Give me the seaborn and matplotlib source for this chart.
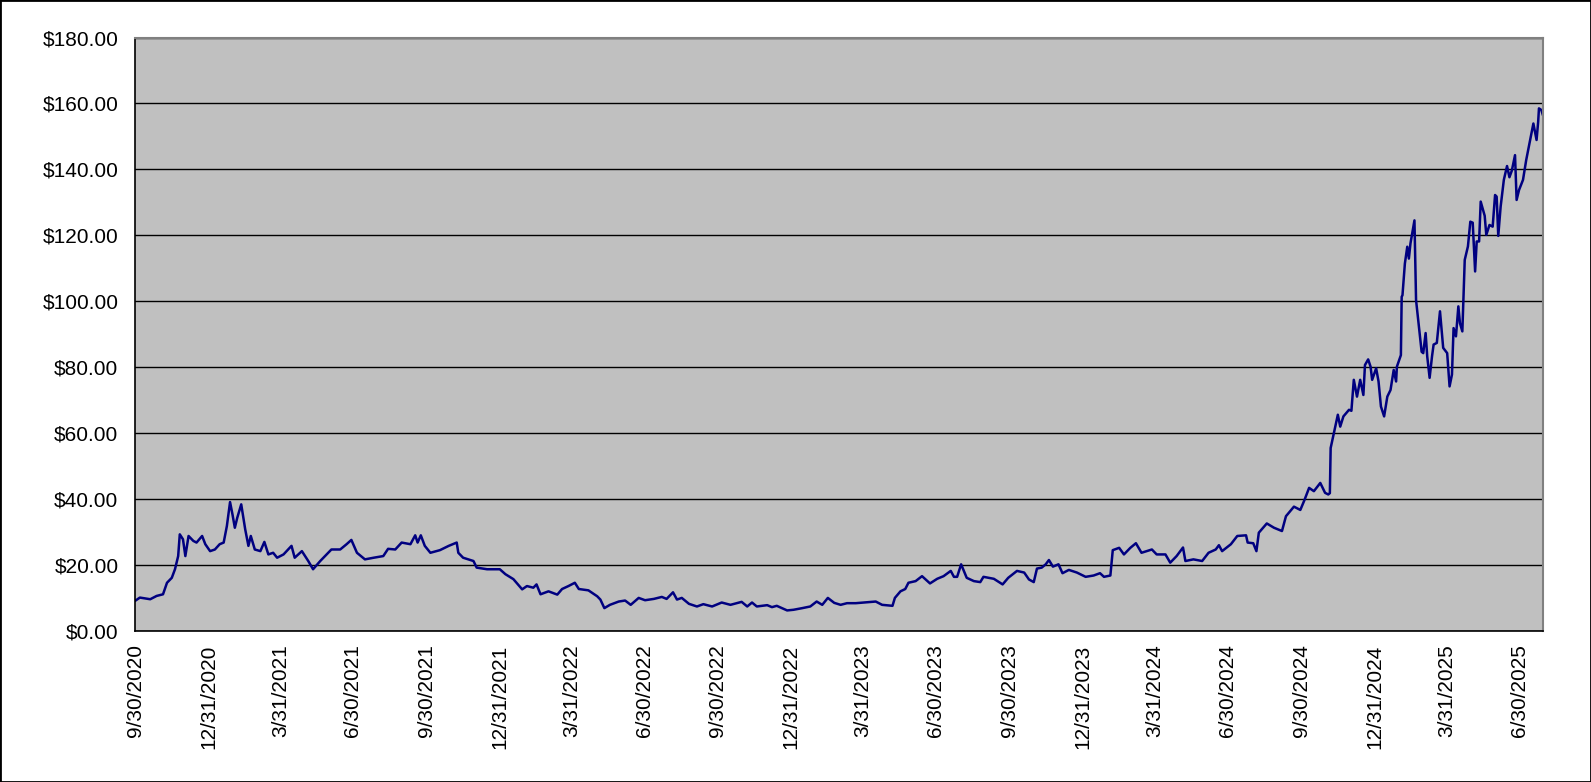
import numpy as np
import pandas as pd
import matplotlib
matplotlib.use("Agg")
import matplotlib.pyplot as plt
import matplotlib.ticker as mticker
import seaborn as sns

# %%
# price, x = days after 9/30/2020
start_date = "2020-09-30"
end_date = "2025-07-30"

days = [
    0, 6, 19, 27, 35, 40, 46, 50, 54, 56, 60, 63, 67, 73, 77,
    84, 88, 94, 100, 106, 111, 115, 119, 122, 125, 128, 133, 138, 142, 145,
    150, 157, 162, 167, 173, 178, 186, 196, 200, 209, 217, 223, 232, 240, 246,
    257, 265, 271, 278, 288, 299, 311, 317, 326, 334, 345, 351, 354, 358, 363,
    370, 382, 393, 403, 405, 411, 424, 428, 441, 457, 464, 474, 485, 491, 499,
    503, 508, 518, 529, 535, 543, 551, 556, 568, 579, 583, 588, 595, 606, 614,
    621, 631, 639, 650, 660, 666, 674, 679, 685, 694, 704, 712, 723, 735, 746,
    760, 767, 773, 779, 792, 798, 804, 817, 825, 836, 846, 854, 861, 868, 876,
    884, 892, 903, 913, 928, 936, 949, 952, 959, 965, 969, 978, 986, 996, 1005,
    1013, 1022, 1026, 1030, 1035, 1042, 1051, 1059, 1063, 1076, 1087, 1094, 1105, 1114, 1120,
    1126, 1130, 1136, 1141, 1145, 1150, 1157, 1162, 1170, 1180, 1191, 1201, 1209, 1214, 1222,
    1225, 1233, 1239, 1247, 1254, 1261, 1274, 1280, 1291, 1297, 1305, 1313, 1316, 1326, 1337,
    1345, 1354, 1358, 1362, 1373, 1381, 1392, 1394, 1401, 1405, 1408, 1418, 1427, 1437, 1442,
    1452, 1460, 1465, 1471, 1477, 1485, 1491, 1495, 1497, 1498, 1502, 1507, 1510, 1514, 1521,
    1524, 1527, 1531, 1535, 1539, 1541, 1545, 1548, 1550, 1555, 1558, 1561, 1565, 1569, 1573,
    1577, 1580, 1581, 1586, 1587, 1588, 1591, 1594, 1596, 1598, 1603, 1605, 1609, 1612, 1614,
    1617, 1619, 1622, 1625, 1627, 1631, 1635, 1639, 1644, 1647, 1650, 1652, 1655, 1658, 1660,
    1663, 1666, 1670, 1673, 1676, 1679, 1681, 1684, 1686, 1691, 1693, 1697, 1701, 1704, 1706,
    1708, 1711, 1715, 1719, 1722, 1725, 1729, 1731, 1734, 1739, 1743, 1748, 1752, 1756, 1758,
    1759, 1762, 1764,
]

prices = [
    9.0, 10.0, 9.5, 10.5, 11.0, 14.5, 16.0, 18.6, 22.6, 29.2, 27.7, 22.6, 28.7, 27.2, 26.7,
    28.7, 26.2, 24.1, 24.6, 26.2, 26.7, 31.7, 39.0, 35.3, 31.2, 34.2, 38.3, 30.7, 25.7, 28.7,
    24.6, 24.1, 26.9, 23.1, 23.6, 22.1, 23.1, 25.7, 22.1, 24.1, 21.1, 18.6, 21.1, 23.1, 24.6,
    24.6, 26.2, 27.5, 23.6, 21.6, 22.1, 22.6, 24.8, 24.6, 26.7, 26.2, 28.9, 26.7, 28.9, 25.7,
    23.6, 24.4, 25.7, 26.7, 23.6, 22.1, 21.1, 19.1, 18.6, 18.6, 17.1, 15.6, 12.5, 13.5, 13.0,
    14.0, 11.0, 11.9, 10.9, 12.6, 13.5, 14.5, 12.6, 12.2, 10.4, 9.4, 6.8, 7.8, 8.8, 9.1,
    7.8, 9.9, 9.2, 9.6, 10.2, 9.6, 11.6, 9.4, 9.9, 8.1, 7.3, 8.0, 7.3, 8.5, 7.8,
    8.7, 7.3, 8.5, 7.3, 7.7, 7.1, 7.5, 6.1, 6.3, 6.8, 7.3, 8.8, 7.8, 9.9, 8.4,
    7.8, 8.3, 8.3, 8.5, 8.8, 7.8, 7.5, 9.9, 11.9, 12.6, 14.5, 15.0, 16.5, 14.3, 15.7,
    16.5, 18.1, 16.3, 16.3, 20.1, 16.0, 15.0, 14.7, 16.3, 15.7, 14.0, 16.0, 18.1, 17.6, 15.5,
    14.7, 18.8, 19.1, 20.1, 21.4, 19.4, 20.1, 17.4, 18.4, 17.6, 16.3, 16.7, 17.4, 16.3, 16.7,
    24.4, 25.1, 23.1, 25.1, 26.5, 23.6, 24.6, 23.1, 23.1, 20.6, 22.6, 25.2, 21.1, 21.6, 21.1,
    23.6, 24.6, 25.9, 24.1, 26.2, 28.7, 28.9, 26.7, 26.5, 24.1, 29.7, 32.5, 31.2, 30.2, 34.7,
    37.6, 36.6, 39.5, 43.3, 42.3, 44.8, 41.8, 41.3, 41.7, 55.4, 59.9, 65.5, 61.9, 65.0, 67.0,
    66.7, 76.1, 71.0, 76.1, 71.5, 80.6, 82.3, 80.1, 76.1, 79.6, 75.6, 68.0, 65.0, 71.0, 73.0,
    79.1, 75.6, 80.1, 83.6, 101.3, 101.8, 111.4, 116.5, 112.9, 117.5, 124.5, 100.3, 91.2, 84.6, 84.2,
    90.3, 83.2, 76.7, 83.2, 86.8, 87.3, 96.9, 85.8, 84.2, 74.1, 77.7, 91.8, 89.3, 98.4, 93.3,
    90.8, 112.5, 116.6, 124.1, 123.8, 109.0, 118.1, 118.1, 130.2, 125.9, 120.1, 123.1, 122.6, 132.2, 131.7,
    119.8, 128.7, 136.8, 141.0, 137.6, 139.6, 144.3, 130.7, 133.7, 136.8, 142.8, 148.9, 153.9, 148.9, 154.4,
    158.5, 158.0, 156.4,
]

tick_labels = [
    "9/30/2020", "12/31/2020", "3/31/2021", "6/30/2021", "9/30/2021",
    "12/31/2021", "3/31/2022", "6/30/2022", "9/30/2022", "12/31/2022",
    "3/31/2023", "6/30/2023", "9/30/2023", "12/31/2023", "3/31/2024",
    "6/30/2024", "9/30/2024", "12/31/2024", "3/31/2025", "6/30/2025",
]
y_ticks = [0, 20, 40, 60, 80, 100, 120, 140, 160, 180]

assert len(days) == len(prices)

df = pd.DataFrame({
    "date": pd.Timestamp(start_date) + pd.to_timedelta(days, unit="D"),
    "price": prices,
})

# %%
sns.set_style("white")
plt.rcParams["font.family"] = ["Liberation Sans", "DejaVu Sans"]

fig = plt.figure(figsize=(15.91, 7.82), dpi=100)
ax = fig.add_axes([0.0849, 0.1937, 0.8849, 0.7583])
ax.set_facecolor("#C0C0C0")

sns.lineplot(data=df, x="date", y="price", ax=ax, color="#000080", linewidth=1.8)

ax.set_xlim(pd.Timestamp(start_date), pd.Timestamp(end_date))
ax.set_ylim(0, 180)
ax.set_yticks(y_ticks)
ax.yaxis.set_major_formatter(mticker.FuncFormatter(lambda v, p: f"${v:,.2f}"))
ax.set_xticks(pd.to_datetime(tick_labels, format="%m/%d/%Y"))
ax.set_xticklabels(tick_labels, rotation=90)

ax.grid(axis="y", color="black", linewidth=1)
ax.grid(axis="x", visible=False)
ax.set_axisbelow(True)
ax.set_xlabel("")
ax.set_ylabel("")

ax.tick_params(axis="both", direction="out", length=5, width=1, color="black",
               labelsize=15, labelcolor="black")
ax.tick_params(axis="y", pad=7)
ax.tick_params(axis="x", pad=5)

for side in ["left", "bottom"]:
    ax.spines[side].set_color("black")
    ax.spines[side].set_linewidth(1.2)
for side in ["top", "right"]:
    ax.spines[side].set_color("#808080")
    ax.spines[side].set_linewidth(1.5)

# outer border of the chart
fig.patches.append(plt.Rectangle((0, 0), 1, 1, transform=fig.transFigure,
                                 fill=False, edgecolor="black", linewidth=2))

fig.savefig("out.png", dpi=100, facecolor="white")
